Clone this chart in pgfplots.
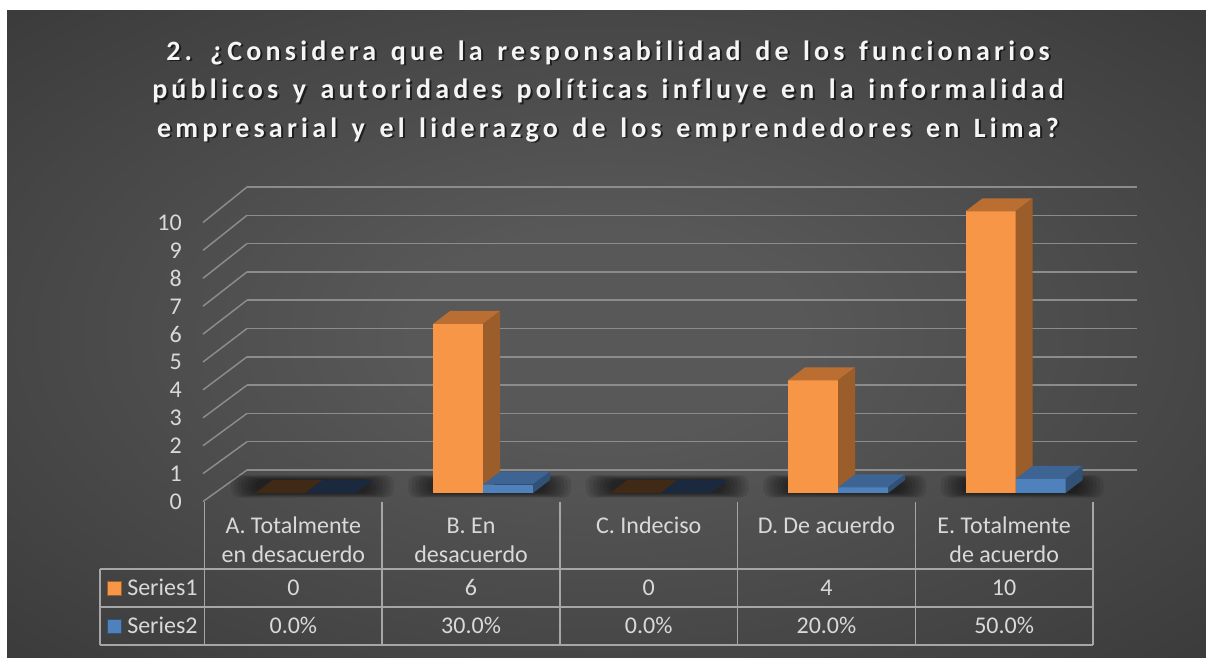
\documentclass[border=0pt]{standalone}
\usepackage{pgfplots}
\pgfplotsset{compat=1.18}
\usepackage{pgfplotstable}
\usepackage{fontspec}
\setmainfont{Carlito}[Ligatures=NoCommon]
\newfontfamily\titlefont[LetterSpace=15, WordSpace=1.38, Ligatures=NoCommon]{Carlito}

\definecolor{bgin}{RGB}{88,88,88}
\definecolor{bgedge}{RGB}{44,44,44}
\definecolor{bgcorner}{RGB}{34,34,34}
\definecolor{gridc}{RGB}{140,140,140}
\definecolor{tablec}{RGB}{166,166,166}
\definecolor{txt}{RGB}{217,217,217}
\definecolor{titc}{RGB}{245,245,245}
\definecolor{ofront}{RGB}{247,150,70}
\definecolor{otop}{RGB}{186,110,50}
\definecolor{oside}{RGB}{155,93,42}
\definecolor{ozero}{RGB}{64,42,22}
\definecolor{bfront}{RGB}{79,129,189}
\definecolor{btop}{RGB}{62,100,148}
\definecolor{bside}{RGB}{50,81,118}
\definecolor{bzero}{RGB}{27,41,62}

\pgfdeclareradialshading{bgshade}{\pgfpoint{0bp}{0bp}}{color(0bp)=(bgin); color(8bp)=(bgin); color(50bp)=(bgedge); color(71bp)=(bgcorner)}
\pgfdeclareplotmark{empty}{}

\pgfplotstableread{
x y
0 0
1 6
2 0
3 4
4 10
}\seriesone
\pgfplotstableread{
x y
0 0
1 0.3
2 0
3 0.2
4 0.5
}\seriestwo

% 1 px = 0.75pt ; bar plane: 21.1275pt per unit
% #1 left edge offset (pt), #2 front, #3 top, #4 side, #5 zero colour
\newcommand\barfaces[5]{%
  \pgfmathsetmacro\h{\val*21.1275}%
  \ifdim\val pt<0.001pt
    \pgfpathmoveto{\pgfpoint{#1pt}{0pt}}%
    \pgfpathlineto{\pgfpoint{#1pt+37.5pt}{0pt}}%
    \pgfpathlineto{\pgfpoint{#1pt+50.25pt}{9.75pt}}%
    \pgfpathlineto{\pgfpoint{#1pt+12.75pt}{9.75pt}}%
    \pgfpathclose
    \pgfsetfillcolor{#5}\pgfusepath{fill}%
  \else
    \pgfpathrectanglecorners{\pgfpoint{#1pt}{-\h pt}}{\pgfpoint{#1pt+37.5pt}{0pt}}%
    \pgfsetfillcolor{#2}\pgfusepath{fill}%
    \pgfpathmoveto{\pgfpoint{#1pt}{0pt}}%
    \pgfpathlineto{\pgfpoint{#1pt+37.5pt}{0pt}}%
    \pgfpathlineto{\pgfpoint{#1pt+50.25pt}{9.75pt}}%
    \pgfpathlineto{\pgfpoint{#1pt+12.75pt}{9.75pt}}%
    \pgfpathclose
    \pgfsetfillcolor{#3}\pgfusepath{fill}%
    \pgfpathmoveto{\pgfpoint{#1pt+37.5pt}{0pt}}%
    \pgfpathlineto{\pgfpoint{#1pt+50.25pt}{9.75pt}}%
    \pgfpathlineto{\pgfpoint{#1pt+50.25pt}{9.75pt-\h pt}}%
    \pgfpathlineto{\pgfpoint{#1pt+37.5pt}{-\h pt}}%
    \pgfpathclose
    \pgfsetfillcolor{#4}\pgfusepath{fill}%
  \fi
}
\newcommand\shadowcode{%
  \pgfmathsetmacro\h{\val*21.1275}%
  \begin{pgfscope}
  \pgfsetfillcolor{black}\pgfsetfillopacity{0.09}%
  \foreach \ii in {0,...,7}{%
    \begin{pgfscope}
    \pgfsetcornersarced{\pgfpoint{6pt}{6pt}}%
    \pgfpathrectanglecorners{\pgfpoint{-56pt+2.6*\ii pt}{-\h pt-3.5pt+0.5*\ii pt}}{\pgfpoint{66pt-2.6*\ii pt}{-\h pt+13.5pt-0.5*\ii pt}}%
    \pgfusepath{fill}%
    \end{pgfscope}
  }%
  \end{pgfscope}
}

\begin{document}
\begin{tikzpicture}
\begin{scope}[x=0.75pt,y=-0.75pt]
  \useasboundingbox (0,0) rectangle (1206,657);
  \fill[white] (0,0) rectangle (1206,657);
  \shade[shading=bgshade] (7,10) rectangle (1206,657);
  % title
  \foreach \yy/\tl in {60/{2. ¿Considera que la responsabilidad de los funcionarios},
                       98.5/{públicos y autoridades políticas influye en la informalidad},
                       137/{empresarial y el liderazgo de los emprendedores en Lima?}}{
    \node[anchor=base, inner sep=0pt, text=black, opacity=0.6, font=\titlefont\bfseries\fontsize{21}{25}\selectfont] at (610,\yy+1.8) {\tl};
    \node[anchor=base, inner sep=0pt, text=titc, font=\titlefont\bfseries\fontsize{21}{25}\selectfont] at (608,\yy) {\tl};
  }
  % diagonal grid lines (floor depth)
  \foreach \k in {0,...,10}{
    \draw[gridc, line width=1.1pt] (203,{501.5-27.9*\k}) -- (247,{470-28.3*\k});
  }
  % table
  \draw[tablec, line width=1.2pt] (100,569) -- (1093,569) (100,607) -- (1093,607) (100,645) -- (1093,645) (100,569) -- (100,645);
  \foreach \xx in {204.5,382.2,559.9,737.6,915.3,1093}{
    \draw[tablec, line width=1.2pt] (\xx,502) -- (\xx,645);
  }
  \tikzset{tt/.style={anchor=base, inner sep=0pt, text=txt, font=\fontsize{18}{20}\selectfont}}
  \node[tt] at (293.35,533) {A. Totalmente};
  \node[tt] at (293.35,562) {en desacuerdo};
  \node[tt] at (471.05,533) {B. En};
  \node[tt] at (471.05,562) {desacuerdo};
  \node[tt] at (648.75,533) {C. Indeciso};
  \node[tt] at (826.45,533) {D. De acuerdo};
  \node[tt] at (1004.15,533) {E. Totalmente};
  \node[tt] at (1004.15,562) {de acuerdo};
  \node[tt] at (293.35,595) {0};
  \node[tt] at (471.05,595) {6};
  \node[tt] at (648.75,595) {0};
  \node[tt] at (826.45,595) {4};
  \node[tt] at (1004.15,595) {10};
  \node[tt] at (293.35,633) {0.0\%};
  \node[tt] at (471.05,633) {30.0\%};
  \node[tt] at (648.75,633) {0.0\%};
  \node[tt] at (826.45,633) {20.0\%};
  \node[tt] at (1004.15,633) {50.0\%};
  \fill[ofront, draw=oside, line width=0.5pt] (107,581) rectangle (121,595);
  \fill[bfront, draw=bside, line width=0.5pt] (107,619) rectangle (121,633);
  \node[tt, anchor=base west] at (127,595) {Series1};
  \node[tt, anchor=base west] at (127,633) {Series2};
\end{scope}

% back wall grid
\begin{axis}[
  at={(247*0.75pt,-470*0.75pt)}, anchor=south west,
  scale only axis, width=667.5pt, height=212.25pt,
  xmin=0, xmax=1, ymin=0, ymax=10,
  ytick={0,...,10}, xtick=\empty, yticklabels={},
  ymajorgrids, major grid style={gridc, line width=1.1pt},
  axis line style={draw=none}, major tick length=0pt,
]
\end{axis}

% front value labels
\begin{axis}[
  at={(203*0.75pt,-501.5*0.75pt)}, anchor=south west,
  scale only axis, width=10pt, height=208.875pt,
  xmin=0, xmax=1, ymin=0, ymax=10,
  ytick={0,...,10}, yticklabels={0,1,2,3,4,5,6,7,8,9,10}, xtick=\empty,
  axis line style={draw=none}, major tick length=0pt,
  yticklabel style={text=txt, font=\fontsize{18}{18}\selectfont, inner sep=0pt, anchor=east, xshift=-15.75pt},
]
\end{axis}

% 3-D bars (front, top and side faces drawn at each data point)
\begin{axis}[
  at={(216.75*0.75pt,-493*0.75pt)}, anchor=south west,
  scale only axis, width=665.625pt, height=211.275pt,
  xmin=-0.5, xmax=4.5, ymin=0, ymax=10,
  hide axis, clip=false,
]
\addplot[scatter, only marks, mark=empty,
  visualization depends on={rawy \as \val},
  scatter/@pre marker code/.code={\shadowcode},
  scatter/@post marker code/.code={}] table[x=x,y=y] {\seriesone};
\addplot[scatter, only marks, mark=empty,
  visualization depends on={rawy \as \val},
  scatter/@pre marker code/.code={\barfaces{-37.5}{ofront}{otop}{oside}{ozero}},
  scatter/@post marker code/.code={}] table[x=x,y=y] {\seriesone};
\addplot[scatter, only marks, mark=empty,
  visualization depends on={rawy \as \val},
  scatter/@pre marker code/.code={\barfaces{0}{bfront}{btop}{bside}{bzero}},
  scatter/@post marker code/.code={}] table[x=x,y=y] {\seriestwo};
\end{axis}
\end{tikzpicture}
\end{document}
